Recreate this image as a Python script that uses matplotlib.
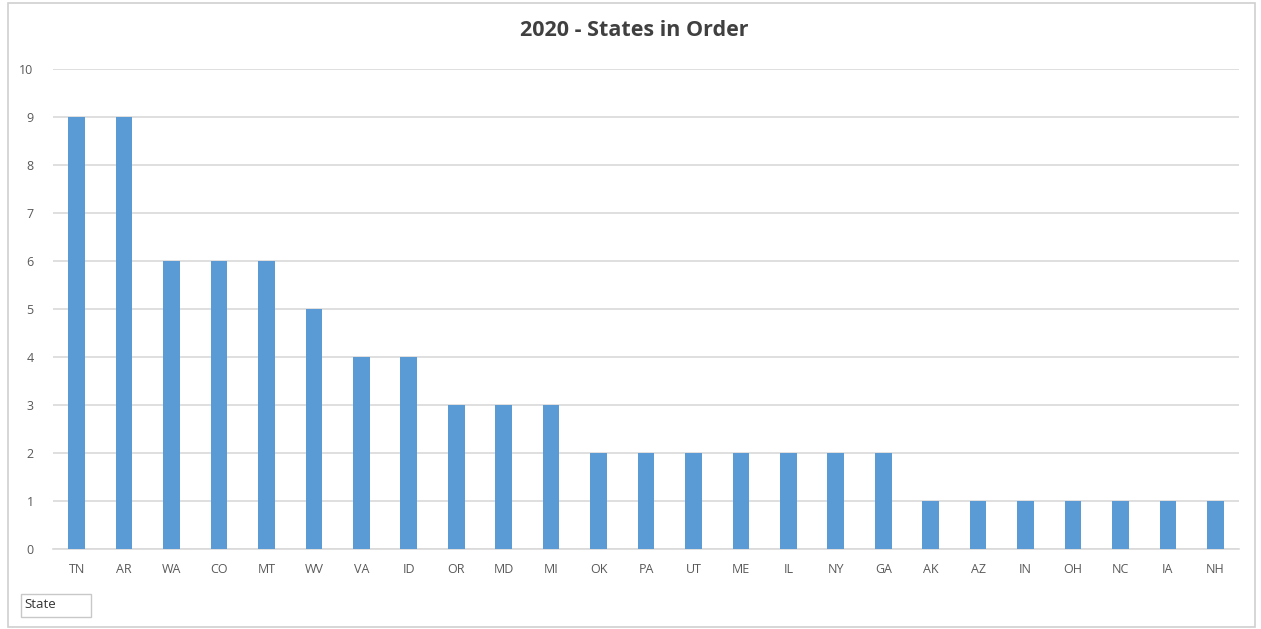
import matplotlib.pyplot as plt
from matplotlib.patches import Rectangle

states = ["TN", "AR", "WA", "CO", "MT", "WV", "VA", "ID", "OR", "MD", "MI",
          "OK", "PA", "UT", "ME", "IL", "NY", "GA", "AK", "AZ", "IN", "OH",
          "NC", "IA", "NH"]
counts = [9, 9, 6, 6, 6, 5, 4, 4, 3, 3, 3,
          2, 2, 2, 2, 2, 2, 2, 1, 1, 1, 1,
          1, 1, 1]

plt.rcParams["font.family"] = ["Open Sans", "DejaVu Sans"]

W, H = 1261, 629
fig = plt.figure(figsize=(W / 100, H / 100), dpi=100)
# chart border
fig.patches.append(Rectangle((8 / W, 2 / H), 1247 / W, 624 / H,
                             transform=fig.transFigure, fill=False,
                             edgecolor="#d0d0d0", linewidth=1.2))

ax = fig.add_axes([53 / W, 80 / H, 1186 / W, 480 / H])
x = list(range(len(states)))
ax.bar(x, counts, width=0.35, color="#5B9BD5", zorder=3)

ax.set_xlim(-0.5, len(states) - 0.5)
ax.set_ylim(0, 10)
ax.set_yticks(range(0, 11))
ax.set_xticks(x)
ax.set_xticklabels(states)
ax.grid(axis="y", color="#d9d9d9", linewidth=1.2, zorder=0)
for s in ["top", "right", "left"]:
    ax.spines[s].set_visible(False)
ax.spines["bottom"].set_color("#d9d9d9")
ax.spines["bottom"].set_linewidth(1.2)
ax.tick_params(axis="both", length=0, colors="#595959", labelsize=9)
ax.tick_params(axis="x", pad=10)
ax.tick_params(axis="y", pad=14)

fig.text(634 / W, 1 - 31 / H, "2020 - States in Order", ha="center", va="center",
         fontsize=15.5, fontweight="bold", color="#404040")

# field button
fig.patches.append(Rectangle((21 / W, 1 - 617 / H), 70 / W, 23 / H,
                             transform=fig.transFigure, facecolor="white",
                             edgecolor="#c8c8c8", linewidth=1))
fig.text(24 / W, 1 - 605 / H, "State", ha="left", va="center", fontsize=9.5,
         color="#333333")

fig.savefig("out.png", dpi=100)
